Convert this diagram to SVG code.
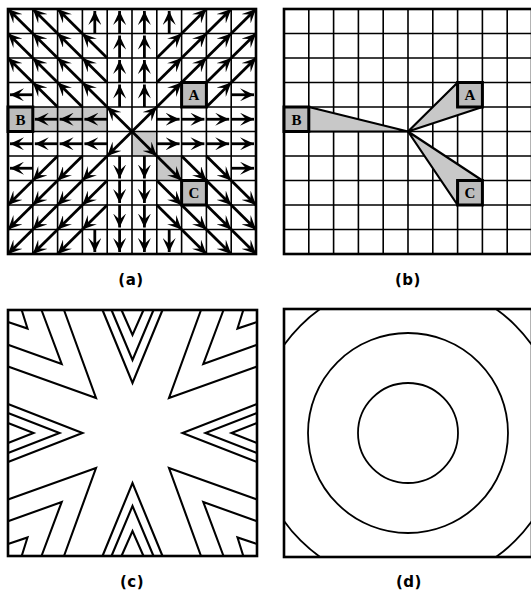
<svg xmlns="http://www.w3.org/2000/svg" width="531" height="596" viewBox="0 0 531 596">
<style>
.bg{fill:#fff}
.grid{stroke:#000;stroke-width:1.6;fill:none}
.frame{stroke:#000;stroke-width:2.6;fill:none}
.ar{stroke:#000;stroke-width:2.8;fill:none;marker-end:url(#ah)}
.shade{fill:#c8c8c8;stroke:none}
.tri{fill:#c8c8c8;stroke:#000;stroke-width:2.2;stroke-linejoin:round}
.cell{fill:#bcbcbc;stroke:#000;stroke-width:3}
.let{font-family:"Liberation Serif","DejaVu Serif",serif;font-weight:bold;font-size:15px;text-anchor:middle;fill:#000}
.cont{fill:none;stroke:#000;stroke-width:2.1;stroke-linejoin:miter}
.circ{fill:none;stroke:#000;stroke-width:1.8}
.lab{font-family:"DejaVu Sans","Liberation Sans",sans-serif;font-weight:bold;font-size:15px;text-anchor:middle;fill:#000;letter-spacing:0.5px}
</style>
<defs>
<marker id="ah" viewBox="-14 -6.5 14 13" refX="0" refY="0" markerWidth="14" markerHeight="13" markerUnits="userSpaceOnUse" orient="auto">
<path d="M0,0 L-14,-6.5 L-8,0 L-14,6.5 Z" fill="#000"/>
</marker>
<clipPath id="clipd"><rect x="284" y="309" width="248" height="248"/></clipPath>
</defs>
<rect class="bg" x="0" y="0" width="531" height="596"/>

<g id="panel-a">
<rect class="shade" x="32.8" y="107" width="74.4" height="24.5"/>
<rect class="shade" x="132" y="131.5" width="24.8" height="24.5"/>
<rect class="shade" x="156.8" y="156" width="24.8" height="24.5"/>
<path class="grid" d="M32.8,9V254M57.6,9V254M82.4,9V254M107.2,9V254M132,9V254M156.8,9V254M181.6,9V254M206.4,9V254M231.2,9V254M8,33.5H256M8,58H256M8,82.5H256M8,107H256M8,131.5H256M8,156H256M8,180.5H256M8,205H256M8,229.5H256"/>
<rect class="frame" x="8" y="9" width="248" height="245"/>
<g id="arrows-a">
<line class="ar" x1="32.8" y1="33.5" x2="8" y2="9"/>
<line class="ar" x1="57.6" y1="33.5" x2="32.8" y2="9"/>
<line class="ar" x1="82.4" y1="33.5" x2="57.6" y2="9"/>
<line class="ar" x1="94.8" y1="33.5" x2="94.8" y2="11"/>
<line class="ar" x1="119.6" y1="33.5" x2="119.6" y2="11"/>
<line class="ar" x1="32.8" y1="58" x2="8" y2="33.5"/>
<line class="ar" x1="57.6" y1="58" x2="32.8" y2="33.5"/>
<line class="ar" x1="82.4" y1="58" x2="57.6" y2="33.5"/>
<line class="ar" x1="107.2" y1="58" x2="82.4" y2="33.5"/>
<line class="ar" x1="119.6" y1="58" x2="119.6" y2="35.5"/>
<line class="ar" x1="32.8" y1="82.5" x2="8" y2="58"/>
<line class="ar" x1="57.6" y1="82.5" x2="32.8" y2="58"/>
<line class="ar" x1="82.4" y1="82.5" x2="57.6" y2="58"/>
<line class="ar" x1="107.2" y1="82.5" x2="82.4" y2="58"/>
<line class="ar" x1="119.6" y1="82.5" x2="119.6" y2="60"/>
<line class="ar" x1="32.8" y1="94.75" x2="10" y2="94.75"/>
<line class="ar" x1="57.6" y1="107" x2="32.8" y2="82.5"/>
<line class="ar" x1="82.4" y1="107" x2="57.6" y2="82.5"/>
<line class="ar" x1="107.2" y1="107" x2="82.4" y2="82.5"/>
<line class="ar" x1="119.6" y1="107" x2="119.6" y2="84.5"/>
<line class="ar" x1="57.6" y1="119.25" x2="34.8" y2="119.25"/>
<line class="ar" x1="82.4" y1="119.25" x2="59.6" y2="119.25"/>
<line class="ar" x1="107.2" y1="119.25" x2="84.4" y2="119.25"/>
<line class="ar" x1="132" y1="131.5" x2="107.2" y2="107"/>

<line class="ar" x1="144.4" y1="33.5" x2="144.4" y2="11"/>
<line class="ar" x1="169.2" y1="33.5" x2="169.2" y2="11"/>
<line class="ar" x1="181.6" y1="33.5" x2="206.4" y2="9"/>
<line class="ar" x1="206.4" y1="33.5" x2="231.2" y2="9"/>
<line class="ar" x1="231.2" y1="33.5" x2="256" y2="9"/>
<line class="ar" x1="144.4" y1="58" x2="144.4" y2="35.5"/>
<line class="ar" x1="156.8" y1="58" x2="181.6" y2="33.5"/>
<line class="ar" x1="181.6" y1="58" x2="206.4" y2="33.5"/>
<line class="ar" x1="206.4" y1="58" x2="231.2" y2="33.5"/>
<line class="ar" x1="231.2" y1="58" x2="256" y2="33.5"/>
<line class="ar" x1="144.4" y1="82.5" x2="144.4" y2="60"/>
<line class="ar" x1="156.8" y1="82.5" x2="181.6" y2="58"/>
<line class="ar" x1="181.6" y1="82.5" x2="206.4" y2="58"/>
<line class="ar" x1="206.4" y1="82.5" x2="231.2" y2="58"/>
<line class="ar" x1="231.2" y1="82.5" x2="256" y2="58"/>
<line class="ar" x1="144.4" y1="107" x2="144.4" y2="84.5"/>
<line class="ar" x1="156.8" y1="107" x2="181.6" y2="82.5"/>
<line class="ar" x1="206.4" y1="107" x2="231.2" y2="82.5"/>
<line class="ar" x1="231.2" y1="94.75" x2="254" y2="94.75"/>
<line class="ar" x1="132" y1="131.5" x2="156.8" y2="107"/>
<line class="ar" x1="156.8" y1="119.25" x2="179.6" y2="119.25"/>
<line class="ar" x1="181.6" y1="119.25" x2="204.4" y2="119.25"/>
<line class="ar" x1="206.4" y1="119.25" x2="229.2" y2="119.25"/>
<line class="ar" x1="231.2" y1="119.25" x2="254" y2="119.25"/>

<line class="ar" x1="32.8" y1="143.75" x2="10" y2="143.75"/>
<line class="ar" x1="57.6" y1="143.75" x2="34.8" y2="143.75"/>
<line class="ar" x1="82.4" y1="143.75" x2="59.6" y2="143.75"/>
<line class="ar" x1="107.2" y1="143.75" x2="84.4" y2="143.75"/>
<line class="ar" x1="132" y1="131.5" x2="107.2" y2="156"/>
<line class="ar" x1="32.8" y1="168.25" x2="10" y2="168.25"/>
<line class="ar" x1="57.6" y1="156" x2="32.8" y2="180.5"/>
<line class="ar" x1="82.4" y1="156" x2="57.6" y2="180.5"/>
<line class="ar" x1="107.2" y1="156" x2="82.4" y2="180.5"/>
<line class="ar" x1="119.6" y1="156" x2="119.6" y2="178.5"/>
<line class="ar" x1="32.8" y1="180.5" x2="8" y2="205"/>
<line class="ar" x1="57.6" y1="180.5" x2="32.8" y2="205"/>
<line class="ar" x1="82.4" y1="180.5" x2="57.6" y2="205"/>
<line class="ar" x1="107.2" y1="180.5" x2="82.4" y2="205"/>
<line class="ar" x1="119.6" y1="180.5" x2="119.6" y2="203"/>
<line class="ar" x1="32.8" y1="205" x2="8" y2="229.5"/>
<line class="ar" x1="57.6" y1="205" x2="32.8" y2="229.5"/>
<line class="ar" x1="82.4" y1="205" x2="57.6" y2="229.5"/>
<line class="ar" x1="107.2" y1="205" x2="82.4" y2="229.5"/>
<line class="ar" x1="119.6" y1="205" x2="119.6" y2="227.5"/>
<line class="ar" x1="32.8" y1="229.5" x2="8" y2="254"/>
<line class="ar" x1="57.6" y1="229.5" x2="32.8" y2="254"/>
<line class="ar" x1="82.4" y1="229.5" x2="57.6" y2="254"/>
<line class="ar" x1="94.8" y1="229.5" x2="94.8" y2="252"/>
<line class="ar" x1="119.6" y1="229.5" x2="119.6" y2="252"/>

<line class="ar" x1="132" y1="131.5" x2="156.8" y2="156"/>
<line class="ar" x1="156.8" y1="143.75" x2="179.6" y2="143.75"/>
<line class="ar" x1="181.6" y1="143.75" x2="204.4" y2="143.75"/>
<line class="ar" x1="206.4" y1="143.75" x2="229.2" y2="143.75"/>
<line class="ar" x1="231.2" y1="143.75" x2="254" y2="143.75"/>
<line class="ar" x1="144.4" y1="156" x2="144.4" y2="178.5"/>
<line class="ar" x1="156.8" y1="156" x2="181.6" y2="180.5"/>
<line class="ar" x1="181.6" y1="156" x2="206.4" y2="180.5"/>
<line class="ar" x1="206.4" y1="156" x2="231.2" y2="180.5"/>
<line class="ar" x1="231.2" y1="168.25" x2="254" y2="168.25"/>
<line class="ar" x1="144.4" y1="180.5" x2="144.4" y2="203"/>
<line class="ar" x1="156.8" y1="180.5" x2="181.6" y2="205"/>
<line class="ar" x1="206.4" y1="180.5" x2="231.2" y2="205"/>
<line class="ar" x1="231.2" y1="180.5" x2="256" y2="205"/>
<line class="ar" x1="144.4" y1="205" x2="144.4" y2="227.5"/>
<line class="ar" x1="156.8" y1="205" x2="181.6" y2="229.5"/>
<line class="ar" x1="181.6" y1="205" x2="206.4" y2="229.5"/>
<line class="ar" x1="206.4" y1="205" x2="231.2" y2="229.5"/>
<line class="ar" x1="231.2" y1="205" x2="256" y2="229.5"/>
<line class="ar" x1="144.4" y1="229.5" x2="144.4" y2="252"/>
<line class="ar" x1="169.2" y1="229.5" x2="169.2" y2="252"/>
<line class="ar" x1="181.6" y1="229.5" x2="206.4" y2="254"/>
<line class="ar" x1="206.4" y1="229.5" x2="231.2" y2="254"/>
<line class="ar" x1="231.2" y1="229.5" x2="256" y2="254"/>
</g>
<g id="a-cell-B"><rect class="cell" x="8" y="107" width="24.8" height="24.5"/><text class="let" x="20.4" y="124.5">B</text></g>
<g id="a-cell-A"><rect class="cell" x="181.6" y="82.5" width="24.8" height="24.5"/><text class="let" x="194" y="100">A</text></g>
<g id="a-cell-C"><rect class="cell" x="181.6" y="180.5" width="24.8" height="24.5"/><text class="let" x="194" y="198">C</text></g>
</g>

<g id="panel-b">
<path class="grid" d="M308.8,9V254M333.6,9V254M358.4,9V254M383.2,9V254M408,9V254M432.8,9V254M457.6,9V254M482.4,9V254M507.2,9V254M284,33.5H532M284,58H532M284,82.5H532M284,107H532M284,131.5H532M284,156H532M284,180.5H532M284,205H532M284,229.5H532"/>
<rect class="frame" x="284" y="9" width="248" height="245"/>
<polygon class="tri" points="308.8,107 408,131.5 308.8,131.5"/>
<polygon class="tri" points="408,131.5 457.6,82.5 457.6,107 482.4,107"/>
<polygon class="tri" points="408,131.5 482.4,180.5 457.6,180.5 457.6,205"/>
<g id="b-cell-B"><rect class="cell" x="284" y="107" width="24.8" height="24.5"/><text class="let" x="296.4" y="124.5">B</text></g>
<g id="b-cell-A"><rect class="cell" x="457.6" y="82.5" width="24.8" height="24.5"/><text class="let" x="470" y="100">A</text></g>
<g id="b-cell-C"><rect class="cell" x="457.6" y="180.5" width="24.8" height="24.5"/><text class="let" x="470" y="198">C</text></g>
</g>

<g id="panel-c">
<rect class="frame" x="8" y="310" width="249" height="246"/>
<polyline class="cont" points="102.5,310 132.5,383 162.5,310"/>
<polyline class="cont" points="111.5,310 132.5,360 153.5,310"/>
<polyline class="cont" points="121.5,310 132.5,335 143.5,310"/>
<polyline class="cont" points="102.5,556 132.5,483 162.5,556"/>
<polyline class="cont" points="111.5,556 132.5,506 153.5,556"/>
<polyline class="cont" points="121.5,556 132.5,531 143.5,556"/>
<polyline class="cont" points="8,404 82.5,433 8,462"/>
<polyline class="cont" points="8,413 59.5,433 8,453"/>
<polyline class="cont" points="8,423 33.5,433 8,443"/>
<polyline class="cont" points="257,404 182.5,433 257,462"/>
<polyline class="cont" points="257,413 205.5,433 257,453"/>
<polyline class="cont" points="257,423 231.5,433 257,443"/>
<polyline class="cont" points="8,366.5 96,398 64,310"/>
<polyline class="cont" points="8,344.7 61.7,364 41.5,310"/>
<polyline class="cont" points="8,322 27.5,328.5 21.7,310"/>
<polyline class="cont" points="201,310 169,398 257,366.5"/>
<polyline class="cont" points="223.5,310 203.3,364 257,344.7"/>
<polyline class="cont" points="243.3,310 237.5,328.5 257,322"/>
<polyline class="cont" points="8,499.5 96,468 64,556"/>
<polyline class="cont" points="8,521.3 61.7,502 41.5,556"/>
<polyline class="cont" points="8,544 27.5,537.5 21.7,556"/>
<polyline class="cont" points="257,499.5 169,468 201,556"/>
<polyline class="cont" points="257,521.3 203.3,502 223.5,556"/>
<polyline class="cont" points="257,544 237.5,537.5 243.3,556"/>
</g>

<g id="panel-d">
<rect class="frame" x="284" y="309" width="248" height="248"/>
<circle class="circ" cx="408" cy="433" r="50"/>
<circle class="circ" cx="408" cy="433" r="100"/>
<circle class="circ" cx="408" cy="433" r="152" clip-path="url(#clipd)"/>
</g>

<g id="labels">
<text class="lab" x="131" y="285">(a)</text>
<text class="lab" x="408" y="285">(b)</text>
<text class="lab" x="132" y="587">(c)</text>
<text class="lab" x="409" y="587">(d)</text>
</g>
</svg>
